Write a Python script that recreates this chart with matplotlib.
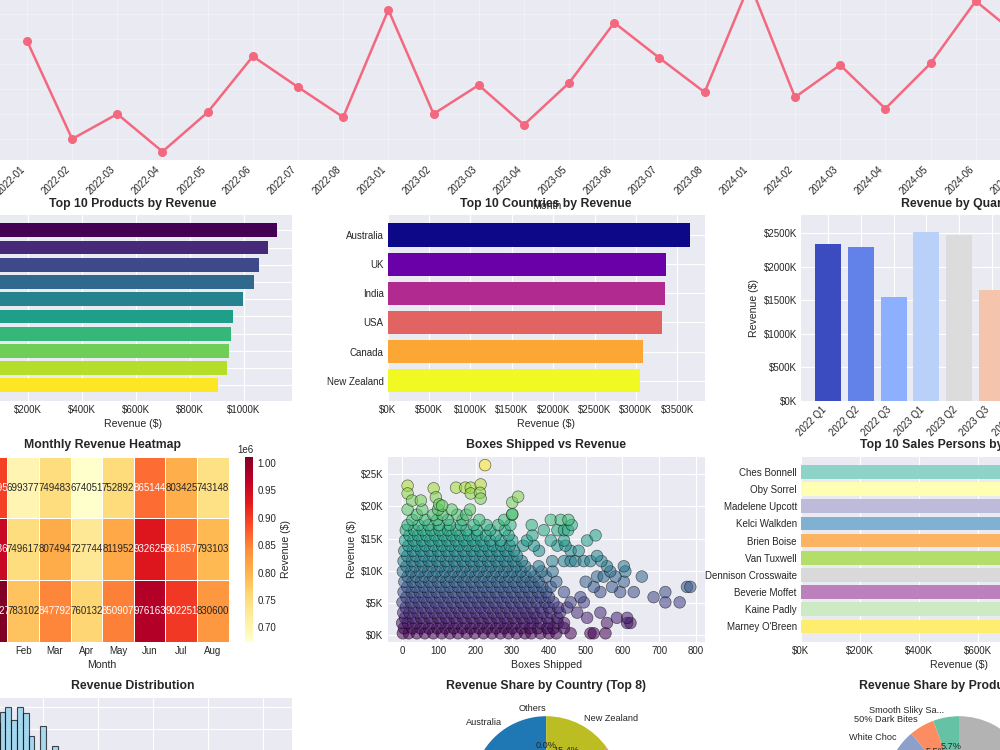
import matplotlib
matplotlib.use('Agg')
import matplotlib.pyplot as plt
from matplotlib.ticker import FuncFormatter, MultipleLocator
import numpy as np

# ---- data ----
years = ['2022', '2023', '2024']
months = ['Jan', 'Feb', 'Mar', 'Apr', 'May', 'Jun', 'Jul', 'Aug']
rev_2022 = [896495, 699377, 749483, 674051, 752892, 865144, 803425, 743148]
rev_2023 = [958636, 749617, 807494, 727744, 811952, 932625, 861857, 793103]
rev_2024 = [1011527, 783102, 847792, 760132, 850907, 976163, 902251, 830600]

product_names = ['Smooth Sliky Salty', '50% Dark Bites', 'White Choc', 'Peanut Butter Cubes',
                 'Eclairs', '99% Dark & Pure', '85% Dark Bars', 'Organic Choco Syrup',
                 'Spicy Special Slims', 'Mint Chip Choco']
product_rev = [1122000, 1089000, 1056000, 1038000, 999000, 960000, 955000, 947000, 939000, 905000]

countries = ['Australia', 'UK', 'India', 'USA', 'Canada', 'New Zealand']
country_rev = [3646444, 3365388, 3343772, 3313089, 3078049, 3042775]

sales_people = ['Ches Bonnell', 'Oby Sorrel', 'Madelene Upcott', 'Kelci Walkden', 'Brien Boise',
                'Van Tuxwell', 'Dennison Crosswaite', 'Beverie Moffet', 'Kaine Padly', "Marney O'Breen"]
sales_rev = [1020000, 1003000, 985000, 962000, 948000, 931000, 917000, 903000, 889000, 874000]

# revenue histogram (50 bins between min and max transaction)
hist_min, hist_max = 7, 26330
hist_counts = [138, 145, 155, 160, 148, 160, 154, 133, 112, 142, 108, 124, 104, 99, 95, 90, 86,
               80, 76, 71, 66, 61, 57, 52, 48, 44, 40, 37, 33, 30, 27, 24, 22, 19, 17, 15, 13,
               11, 10, 8, 7, 6, 5, 4, 3, 3, 2, 1, 1, 1]

# boxes shipped vs revenue, estimated by revenue band ($K) -> boxes
sc_levels = [0.3, 1.1, 1.9, 2.7, 3.5, 4.3, 5.1, 5.9, 6.7, 7.5, 8.3, 9.1, 9.9, 10.7, 11.5,
             12.3, 13.1, 13.9, 14.7, 15.5, 16.3, 17.1, 17.9, 18.7, 19.5]
sc_boxes = [
    [2, 18, 40, 62, 85, 108, 130, 152, 176, 198, 222, 245, 268, 290, 312, 335, 352, 377, 400, 420, 459, 513, 522, 554],
    [5, 28, 50, 73, 96, 118, 141, 164, 187, 210, 232, 256, 279, 300, 325, 348, 370, 395, 412, 441],
    [0, 16, 38, 60, 83, 106, 128, 150, 174, 197, 220, 243, 266, 288, 311, 333, 356, 378, 401, 424, 441, 558, 613, 622],
    [8, 30, 52, 75, 98, 120, 143, 166, 189, 212, 235, 258, 280, 303, 326, 348, 368, 395, 423, 504, 585, 613],
    [3, 20, 42, 65, 88, 110, 133, 156, 179, 202, 225, 248, 270, 293, 316, 338, 360, 383, 405, 430, 477, 540],
    [10, 32, 55, 78, 100, 123, 146, 169, 192, 214, 237, 260, 283, 306, 329, 352, 377, 400, 425, 450],
    [1, 24, 46, 68, 91, 114, 137, 160, 183, 206, 228, 251, 274, 297, 320, 343, 366, 390, 412, 459, 495, 717, 756],
    [12, 35, 58, 80, 103, 126, 149, 172, 195, 218, 240, 263, 286, 309, 332, 355, 378, 400, 486, 685],
    [4, 26, 48, 71, 94, 117, 140, 163, 186, 209, 232, 255, 278, 300, 323, 346, 370, 393, 441, 540, 594, 631, 717],
    [14, 37, 60, 83, 106, 129, 152, 175, 198, 221, 244, 267, 290, 313, 336, 359, 382, 405, 522, 572, 776, 785],
    [6, 28, 51, 74, 97, 120, 143, 166, 189, 212, 235, 258, 281, 304, 327, 350, 372, 420, 500, 604],
    [15, 38, 61, 84, 107, 130, 153, 176, 199, 222, 245, 268, 291, 314, 337, 360, 392, 531, 549, 581, 653],
    [2, 25, 48, 71, 94, 117, 140, 163, 186, 209, 232, 255, 278, 301, 324, 350, 380, 410, 567, 608],
    [12, 35, 58, 81, 104, 127, 150, 173, 196, 219, 242, 265, 288, 311, 335, 372, 558, 604],
    [4, 27, 50, 73, 96, 119, 142, 165, 188, 211, 234, 257, 280, 303, 326, 409, 441, 459, 472, 495, 513, 543],
    [14, 37, 60, 83, 106, 129, 152, 175, 198, 221, 244, 267, 290, 313, 531],
    [6, 29, 52, 75, 98, 121, 144, 167, 190, 213, 236, 259, 282, 305, 373, 459, 481],
    [17, 40, 63, 86, 109, 132, 155, 178, 201, 224, 247, 270, 293, 330, 359, 423, 445],
    [8, 31, 54, 77, 100, 123, 146, 169, 192, 215, 240, 268, 300, 340, 405, 441, 504],
    [20, 43, 66, 89, 112, 135, 158, 181, 204, 228, 255, 290, 355, 527],
    [10, 33, 56, 79, 102, 125, 148, 175, 205, 240, 280, 386, 423, 441, 452],
    [15, 45, 72, 100, 130, 160, 195, 230, 262, 295, 353, 462],
    [28, 62, 95, 125, 165, 210, 278, 405, 432, 453],
    [40, 85, 110, 150, 175, 300],
    [15, 55, 98, 135, 185],
]
sc_top_boxes = [226, 15, 15, 86, 147, 172, 187, 187, 214, 212, 214, 27, 51, 92, 101, 109, 300, 316, 300]
sc_top_rev = [26.4, 23.2, 22.0, 22.8, 22.9, 22.9, 22.9, 22.0, 23.4, 22.1, 21.2, 20.9, 20.9, 21.4,
              20.3, 20.1, 20.6, 21.5, 18.8]

# ---- derived series ----
heat = np.array([rev_2022, rev_2023, rev_2024])
month_labels = [f'{y}-{m:02d}' for y in years for m in range(1, 9)]
monthly = heat.flatten()
quarter_labels = [f'{y} Q{q}' for y in years for q in (1, 2, 3)]
quarter_rev = []
for r in heat:
    quarter_rev += [r[0:3].sum(), r[3:6].sum(), r[6:8].sum()]
total = monthly.sum()

pie_c_labels = countries + ['Others']
pie_c_vals = country_rev + [max(0, total - sum(country_rev))]
short = [n if len(n) <= 15 else n[:15] + '...' for n in product_names[:8]]
pie_p_labels = short + ['Others']
pie_p_vals = product_rev[:8] + [total - sum(product_rev[:8])]

sc_x, sc_y = [], []
for lvl, row in zip(sc_levels, sc_boxes):
    sc_x += row
    sc_y += [lvl * 1000] * len(row)
sc_x += sc_top_boxes
sc_y += [v * 1000 for v in sc_top_rev]

# ---- style ----
plt.style.use('seaborn-v0_8-darkgrid')
plt.rcParams.update({
    'font.family': 'sans-serif',
    'font.sans-serif': ['Liberation Sans', 'Arial', 'DejaVu Sans'],
    'xtick.labelsize': 7, 'ytick.labelsize': 7, 'axes.labelsize': 7.6,
    'axes.titlesize': 8.8, 'axes.titleweight': 'bold', 'axes.titlepad': 6,
    'xtick.major.pad': 3, 'ytick.major.pad': 3, 'axes.labelpad': 3,
    'grid.linewidth': 0.8,
})

W, H = 1000, 750
fig = plt.figure(figsize=(10, 7.5), dpi=100)


def add_ax(x0, top, w, h):
    # place axes in pixel units of this (cropped) view
    return fig.add_axes([x0 / W, 1 - (top + h) / H, w / W, h / H])


money = FuncFormatter(lambda v, p: f'${v / 1000:.0f}K')

# monthly trend
ax = add_ax(-25, -25, 1143, 185)
xs = np.arange(len(monthly))
ax.plot(xs, monthly, color='#F4687F', lw=1.8, marker='o', ms=5.5)
ax.grid(True, alpha=0.3)
ax.set_xticks(xs)
ax.set_xticklabels(month_labels, rotation=45, ha='right')
ax.set_xlabel('Month')
ax.set_ylabel('Revenue ($)')
ax.set_title('Monthly Revenue Trend')
ax.yaxis.set_major_formatter(money)

# top products
ax = add_ax(-26.3, 215, 318, 185.7)
ax.barh(np.arange(10), product_rev, color=plt.cm.viridis(np.linspace(0, 1, 10)))
ax.set_yticks(np.arange(10))
ax.set_yticklabels(product_names)
ax.invert_yaxis()
ax.xaxis.set_major_locator(MultipleLocator(200000))
ax.xaxis.set_major_formatter(money)
ax.set_xlabel('Revenue ($)')
ax.set_title('Top 10 Products by Revenue')

# top countries
ax = add_ax(387.7, 215, 317, 185.7)
ax.barh(np.arange(len(countries)), country_rev, color=plt.cm.plasma(np.linspace(0, 1, len(countries))))
ax.set_yticks(np.arange(len(countries)))
ax.set_yticklabels(countries)
ax.invert_yaxis()
ax.xaxis.set_major_locator(MultipleLocator(500000))
ax.xaxis.set_major_formatter(money)
ax.set_xlabel('Revenue ($)')
ax.set_title('Top 10 Countries by Revenue')

# quarters
ax = add_ax(801, 215, 316, 185.7)
ax.bar(np.arange(len(quarter_rev)), quarter_rev, color=plt.cm.coolwarm(np.linspace(0, 1, len(quarter_rev))))
ax.set_xticks(np.arange(len(quarter_rev)))
ax.set_xticklabels(quarter_labels, rotation=45, ha='right')
ax.yaxis.set_major_locator(MultipleLocator(500000))
ax.yaxis.set_major_formatter(money)
ax.set_ylabel('Revenue ($)')
ax.set_title('Revenue by Quarter')

# heatmap
ax = add_ax(-24.3, 456.7, 253, 185)
cax = add_ax(245, 456.7, 8.3, 185)
cmap = plt.get_cmap('YlOrRd')
mesh = ax.pcolormesh(heat, cmap=cmap, edgecolors='white', linewidth=0.6)
ax.set_ylim(len(years), 0)
ax.set_xticks(np.arange(len(months)) + 0.5)
ax.set_xticklabels(months)
ax.set_yticks(np.arange(len(years)) + 0.5)
ax.set_yticklabels(years)
ax.grid(False)
for i in range(heat.shape[0]):
    for j in range(heat.shape[1]):
        r, g, b, _ = cmap(mesh.norm(heat[i, j]))
        lin = [c / 12.92 if c <= 0.03928 else ((c + 0.055) / 1.055) ** 2.4 for c in (r, g, b)]
        lum = 0.2126 * lin[0] + 0.7152 * lin[1] + 0.0722 * lin[2]
        ax.text(j + 0.5, i + 0.5, f'{heat[i, j]:.0f}', ha='center', va='center', fontsize=7,
                color='#262626' if lum > 0.408 else 'white')
ax.set_xlabel('Month')
ax.set_ylabel('Year')
ax.set_title('Monthly Revenue Heatmap')
cb = fig.colorbar(mesh, cax=cax)
cb.outline.set_visible(False)
cb.set_label('Revenue ($)')
cax.tick_params(labelsize=7)

# scatter
ax = add_ax(387.7, 456.7, 317, 185)
ax.scatter(sc_x, sc_y, c=sc_y, cmap='viridis', s=70, alpha=0.55, edgecolors='black', linewidths=0.5)
ax.xaxis.set_major_locator(MultipleLocator(100))
ax.yaxis.set_major_locator(MultipleLocator(5000))
ax.yaxis.set_major_formatter(money)
ax.set_xlabel('Boxes Shipped')
ax.set_ylabel('Revenue ($)')
ax.set_title('Boxes Shipped vs Revenue')

# sales persons
ax = add_ax(801, 456.7, 316, 185)
ax.barh(np.arange(10), sales_rev, color=plt.cm.Set3(np.linspace(0, 1, 10)))
ax.set_yticks(np.arange(10))
ax.set_yticklabels(sales_people)
ax.invert_yaxis()
ax.xaxis.set_major_locator(MultipleLocator(200000))
ax.xaxis.set_major_formatter(money)
ax.set_xlabel('Revenue ($)')
ax.set_title('Top 10 Sales Persons by Revenue')

# histogram
ax = add_ax(-26.3, 697.7, 318, 185)
edges = np.linspace(hist_min, hist_max, len(hist_counts) + 1)
centers = (edges[:-1] + edges[1:]) / 2
ax.hist(centers, bins=edges, weights=hist_counts, color='skyblue', edgecolor='black', alpha=0.7, linewidth=0.8)
ax.xaxis.set_major_locator(MultipleLocator(5000))
ax.xaxis.set_major_formatter(money)
ax.set_xlabel('Revenue ($)')
ax.set_ylabel('Frequency')
ax.set_title('Revenue Distribution')

# country share pie
ax = add_ax(387.7, 697.7, 317, 185)
ax.pie(pie_c_vals, labels=pie_c_labels, colors=plt.cm.tab10(np.linspace(0, 1, len(pie_c_vals))),
       autopct='%1.1f%%', startangle=90, textprops={'fontsize': 6.6})
ax.set_title('Revenue Share by Country (Top 8)')

# product share pie
ax = add_ax(801, 697.7, 316, 185)
ax.pie(pie_p_vals, labels=pie_p_labels, colors=plt.cm.Set2(np.linspace(0, 1, len(pie_p_vals))),
       autopct='%1.1f%%', startangle=90, textprops={'fontsize': 6.6})
ax.set_title('Revenue Share by Product (Top 8)')

fig.savefig('out.png', dpi=100)
